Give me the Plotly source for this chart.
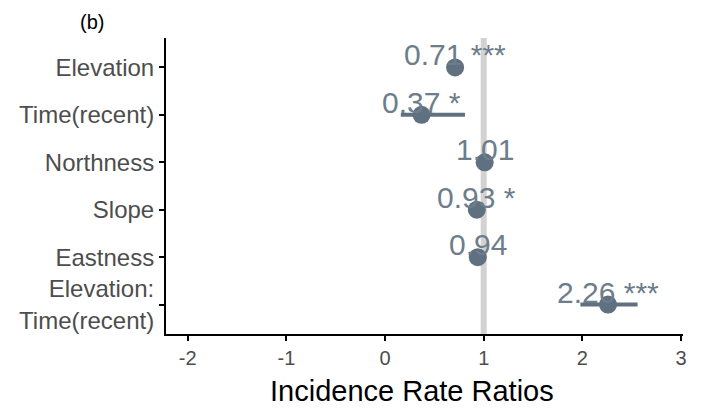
import plotly.graph_objects as go

terms = ["Elevation", "Time(recent)", "Northness", "Slope", "Eastness", "Elevation:<br>Time(recent)"]
irr = [0.71, 0.37, 1.01, 0.93, 0.94, 2.26]
ci_low = [0.66, 0.16, 0.97, 0.89, 0.90, 1.98]
ci_high = [0.76, 0.81, 1.05, 0.97, 0.98, 2.56]
stars = ["***", "*", "", "*", "", "***"]
x_ticks = [-2, -1, 0, 1, 2, 3]

pos = list(range(len(terms)))
FONT = "Liberation Sans, Arial, sans-serif"
DOT = "#5f7080"
TXT = "#6e7d8a"

fig = go.Figure()
fig.add_shape(type="line", xref="x", yref="paper", x0=1, x1=1, y0=0, y1=1,
              line=dict(color="#d2d2d2", width=6), layer="below")

for i in pos:
    fig.add_trace(go.Scatter(x=[ci_low[i], ci_high[i]], y=[i, i], mode="lines",
                             line=dict(color=DOT, width=4), showlegend=False, hoverinfo="skip"))
fig.add_trace(go.Scatter(x=irr, y=pos, mode="markers",
                         marker=dict(color=DOT, size=18), showlegend=False))

for i in pos:
    label = f"{irr[i]:.2f}" + (f" {stars[i]}" if stars[i] else "")
    fig.add_annotation(x=irr[i], y=i, text=label, showarrow=False, xanchor="center",
                       yanchor="bottom", yshift=-6, font=dict(family=FONT, size=30, color=TXT))

fig.add_annotation(xref="paper", yref="paper", x=0.476, y=-0.193, text="Incidence Rate Ratios",
                   showarrow=False, xanchor="center", yanchor="middle",
                   font=dict(family=FONT, size=29, color="black"))
fig.add_annotation(xref="paper", yref="paper", x=-0.143, y=1.054, text="(b)",
                   showarrow=False, xanchor="center", yanchor="middle",
                   font=dict(family=FONT, size=20, color="black"))

fig.update_layout(
    width=701, height=411,
    margin=dict(l=166, r=18, t=38, b=77),
    plot_bgcolor="white", paper_bgcolor="white",
    font=dict(family=FONT),
    xaxis=dict(range=[-2.22, 3.02], tickvals=x_ticks, ticktext=[str(t) for t in x_ticks],
               showgrid=False, zeroline=False, showline=True, linecolor="black", linewidth=2,
               ticks="outside", ticklen=5, tickwidth=1.5, tickcolor="black",
               tickfont=dict(size=20, color="#4d4d4d")),
    yaxis=dict(range=[5.62, -0.62], tickvals=pos, ticktext=terms,
               showgrid=False, zeroline=False, showline=True, linecolor="black", linewidth=2,
               ticks="outside", ticklen=5, tickwidth=1.5, tickcolor="black",
               tickfont=dict(size=24, color="#4d4d4d")),
)

fig.write_html("out.html")
